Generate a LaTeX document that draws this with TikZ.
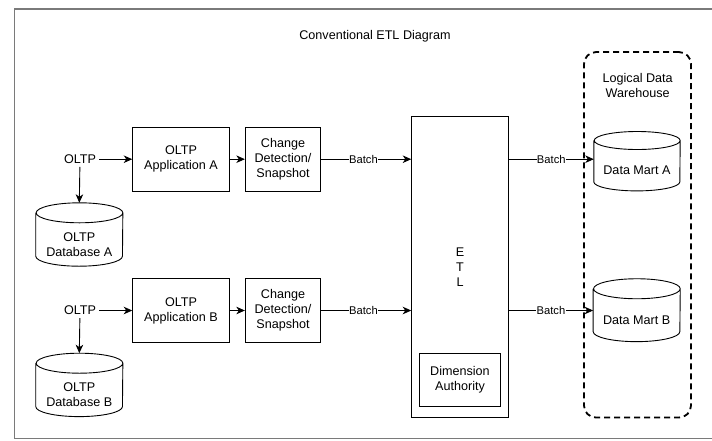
\documentclass[tikz,border=0pt]{standalone}
\usepackage{fontspec}
\setmainfont{Liberation Sans}
\usetikzlibrary{arrows.meta}
\definecolor{framegray}{HTML}{7A7A7A}
\newcommand\dbcyl[3]{%
  \draw[cylline] ([yshift=#3]#1.north west) -- ([yshift=#3]#1.south west)
    arc[start angle=180,end angle=360,x radius=#2,y radius=#3]
    -- ([yshift=#3]#1.north east)
    arc[start angle=0,end angle=180,x radius=#2,y radius=#3]
    arc[start angle=180,end angle=360,x radius=#2,y radius=#3];}
\begin{document}
\begin{tikzpicture}[x=1pt,y=-1pt,
  every node/.style={font=\fontsize{12.6}{15}\selectfont, text=black},
  boxnode/.style={draw=black, line width=0.9pt, align=center, inner sep=2pt},
  txt/.style={align=center, inner sep=3pt},
  dbnode/.style={align=center, inner sep=0pt},
  arr/.style={draw=black, line width=0.9pt, -{Stealth[length=8.5pt,width=7.5pt,inset=2.5pt]}},
  batchlbl/.style={fill=white, inner sep=0.4pt, font=\fontsize{11.2}{13}\selectfont},
  cylline/.style={draw=black, line width=0.9pt},
  whbox/.style={draw=black, line width=1.8pt, dash pattern=on 6pt off 4pt, rounded corners=12pt, inner sep=0pt},
  framestyle/.style={draw=framegray, line width=1.6pt}
]
\useasboundingbox (0,0) rectangle (712,440);
% outer frame
\draw[framestyle] (712,9) -- (14.5,9) -- (14.5,438.5) -- (712,438.5);
% title
\node[txt] (title) at (375,36.7) {Conventional ETL Diagram};
% logical data warehouse container
\node[whbox, minimum width=107pt, minimum height=365.5pt] (lw) at (637.5,234.8) {};
\node[txt] (whlabel) at (637.7,85.5) {Logical Data\\Warehouse};
% row A
\node[txt] (oltpA) at (80,159.2) {OLTP};
\node[boxnode, minimum width=96.6pt, minimum height=63.7pt] (appA) at (181,159.2) {OLTP\\Application A};
\node[boxnode, minimum width=75.4pt, minimum height=63.7pt] (cdA) at (283,159.2) {Change\\Detection/\\Snapshot};
\node[dbnode, minimum width=86.7pt, minimum height=43pt] (dbA) at (79.3,244.5) {OLTP\\Database A};
\dbcyl{dbA}{43.35pt}{10pt}
\coordinate (dbAtop) at ([yshift=20pt]dbA.north);
% row B
\node[txt] (oltpB) at (80,310.5) {OLTP};
\node[boxnode, minimum width=96.6pt, minimum height=64pt] (appB) at (181,310.5) {OLTP\\Application B};
\node[boxnode, minimum width=75.4pt, minimum height=64pt] (cdB) at (283,310.5) {Change\\Detection/\\Snapshot};
\node[dbnode, minimum width=86.7pt, minimum height=43pt] (dbB) at (79.3,394.9) {OLTP\\Database B};
\dbcyl{dbB}{43.35pt}{10pt}
\coordinate (dbBtop) at ([yshift=20pt]dbB.north);
% ETL
\node[boxnode, minimum width=96.6pt, minimum height=300.5pt] (etl) at (460,267) {E\\T\\L};
\node[boxnode, minimum width=81.4pt, minimum height=53.4pt] (dim) at (460,380) {Dimension\\Authority};
% data marts
\node[dbnode, minimum width=86pt, minimum height=41pt] (dmA) at (637,170.2) {Data Mart A};
\dbcyl{dmA}{43pt}{9pt}
\node[dbnode, minimum width=86.7pt, minimum height=42.5pt] (dmB) at (636.7,320.2) {Data Mart B};
\dbcyl{dmB}{43.35pt}{10pt}
% connectors row A
\draw[arr] (oltpA) -- (appA);
\draw[arr] (oltpA) -- (dbAtop);
\draw[arr] (appA) -- (cdA);
\draw[arr] (cdA) -- (etl.west |- cdA) node[pos=0.47, batchlbl] {Batch};
\draw[arr] (etl.east |- cdA) -- (dmA.west |- cdA) node[midway, batchlbl] {Batch};
% connectors row B
\draw[arr] (oltpB) -- (appB);
\draw[arr] (oltpB) -- (dbBtop);
\draw[arr] (appB) -- (cdB);
\draw[arr] (cdB) -- (etl.west |- cdB) node[pos=0.47, batchlbl] {Batch};
\draw[arr] (etl.east |- cdB) -- (dmB.west |- cdB) node[midway, batchlbl] {Batch};
\end{tikzpicture}
\end{document}
